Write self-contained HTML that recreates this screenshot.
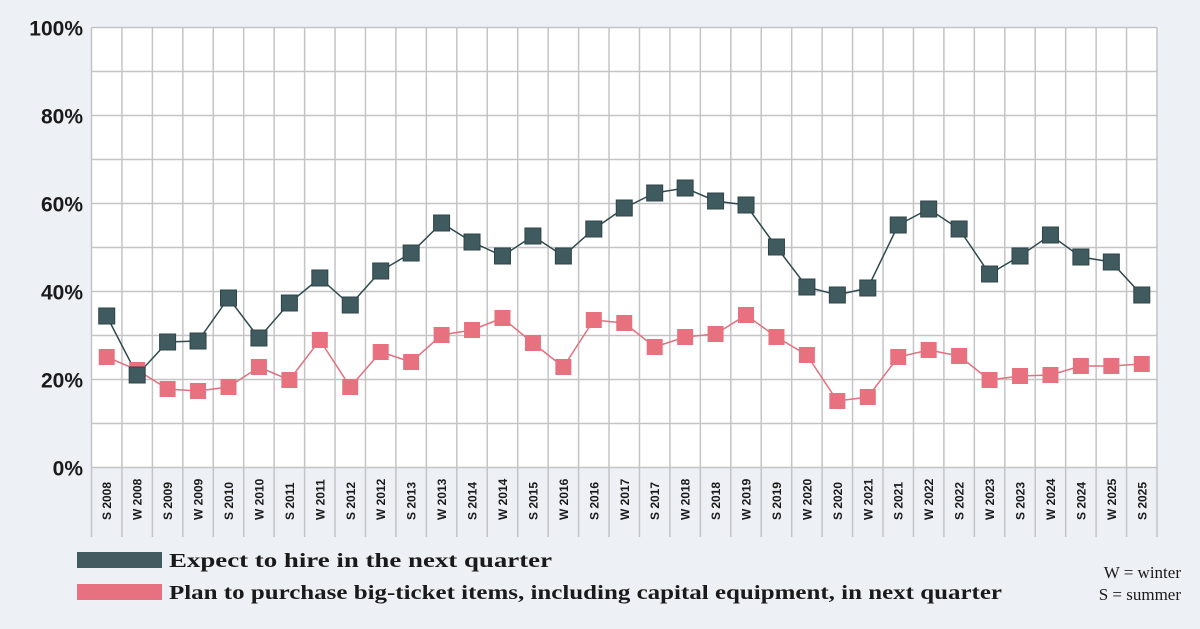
<!DOCTYPE html><html><head><style>body{margin:0;background:#edf1f5}svg{display:block}</style></head><body>
<svg width="1200" height="629" xmlns="http://www.w3.org/2000/svg">
<rect x="91.5" y="27.5" width="1065.5" height="440" fill="#fff"/>
<g id="g" stroke="#c4c4c6" stroke-width="1.5"></g>
<g id="yl" font-family="Liberation Sans,sans-serif" font-weight="bold" font-size="21" fill="#1a1a1a" text-anchor="end"></g>
<g id="xl" font-family="Liberation Sans,sans-serif" font-weight="bold" font-size="12" fill="#1a1a1a"></g>
<polyline id="pl" fill="none" stroke="#e0707f" stroke-width="1.5"/>
<polyline id="dl" fill="none" stroke="#2f4a4e" stroke-width="1.5"/>
<g id="pm" fill="#e8717f"></g><g id="dm" fill="#3f5b5f" stroke="#2f4448" stroke-width="1"></g>
<rect x="77" y="552" width="85" height="16" fill="#415c60"/>
<rect x="77" y="584" width="85" height="16" fill="#e77180"/>
<g font-family="Liberation Serif,serif" font-weight="bold" font-size="20" fill="#1a1a1a">
<text x="169" y="567" textLength="383" lengthAdjust="spacingAndGlyphs">Expect to hire in the next quarter</text>
<text x="169" y="599" textLength="833" lengthAdjust="spacingAndGlyphs">Plan to purchase big-ticket items, including capital equipment, in next quarter</text></g>
<g font-family="Liberation Serif,serif" font-size="17" fill="#1a1a1a" text-anchor="end">
<text x="1181" y="578">W = winter</text><text x="1181" y="600">S = summer</text></g>
</svg>
<script>
const L="S 2008,W 2008,S 2009,W 2009,S 2010,W 2010,S 2011,W 2011,S 2012,W 2012,S 2013,W 2013,S 2014,W 2014,S 2015,W 2016,S 2016,W 2017,S 2017,W 2018,S 2018,W 2019,S 2019,W 2020,S 2020,W 2021,S 2021,W 2022,S 2022,W 2023,S 2023,W 2024,S 2024,W 2025,S 2025".split(",");
const D=[316,375,342,341,298,338,303,278,305,271,253,223,242,256,236,256,229,208,193,188,201,205,247,287,295,288,225,209,229,274,256,235,257,262,295];
const P=[357,370,389,391,387,367,380,340,387,352,362,335,330,318,343,367,320,323,347,337,334,315,337,355,401,397,357,350,356,380,376,375,366,366,364];
const ns="http://www.w3.org/2000/svg",w=1065.5/35,x0=91.5;
function el(p,t,a,txt){const e=document.createElementNS(ns,t);for(const k in a)e.setAttribute(k,a[k]);if(txt)e.textContent=txt;document.getElementById(p).appendChild(e);}
for(let i=0;i<=10;i++){const y=27.5+i*44;el("g","line",{x1:x0,x2:1157,y1:y,y2:y});}
for(let i=0;i<=35;i++){const x=x0+i*w;el("g","line",{x1:x,x2:x,y1:27.5,y2:537});}
for(let i=0;i<=5;i++){el("yl","text",{x:83,y:467.5-i*88+8},(i*20)+"%");}
let dp=[],pp=[];
L.forEach((l,i)=>{const c=x0+w*(i+.5);el("xl","text",{transform:`translate(${c+4.5},${520}) rotate(-90)`},l);
dp.push(c+","+D[i]);pp.push(c+","+P[i]);
el("pm","rect",{x:c-8,y:P[i]-8,width:16,height:16});el("dm","rect",{x:c-8,y:D[i]-8,width:16,height:16});});
document.getElementById("dl").setAttribute("points",dp.join(" "));document.getElementById("pl").setAttribute("points",pp.join(" "));
</script></body></html>
